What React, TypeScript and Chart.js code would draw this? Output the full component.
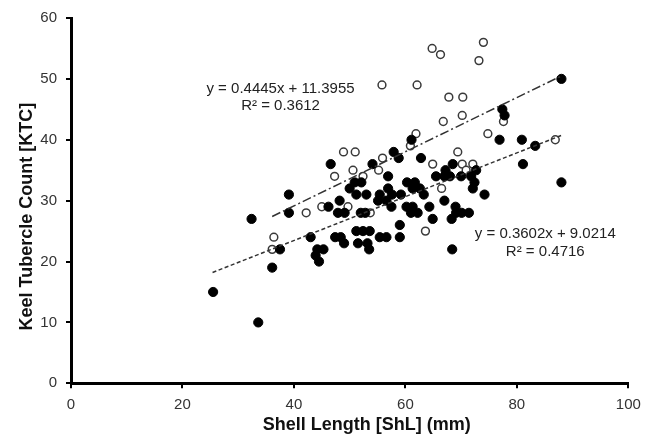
import React, { useEffect, useRef } from "react";
import { Chart, registerables } from "chart.js";
Chart.register(...registerables);

// Filled circles (series 1)
const filledX = [25.5, 33.6, 32.4, 39.1, 39.1, 37.5, 36.1, 43, 44.2, 45.3, 43.9, 44.5, 46.2, 46.6, 48.2, 47.9, 49.1, 47.4, 48.4, 49, 50.9, 52.1, 50, 51.2, 53, 54.1, 56.9, 55.4, 56.9, 57.6, 59.2, 55.1, 56.6, 57.5, 52, 52.8, 51.2, 52.4, 53.6, 51.5, 53.2, 53.5, 55.4, 56.6, 59, 59, 57.9, 58.8, 61.1, 62.8, 68.5, 67.2, 72.7, 65.5, 67, 68, 70, 71.8, 72.4, 72.1, 74.2, 60.3, 61.7, 62.6, 63.3, 61.3, 60.2, 61.3, 61, 62.2, 64.3, 64.9, 68.3, 69.1, 70.1, 71.4, 67, 69, 68.4, 77.4, 77.8, 88, 76.9, 80.9, 83.3, 81.1, 88];
const filledY = [15, 10, 27, 28, 31, 22, 19, 24, 22, 22, 21, 20, 29, 36, 30, 28, 28, 24, 24, 23, 33, 33, 32, 31, 31, 36, 34, 31, 32, 31, 31, 30, 30, 29, 28, 28, 25, 25, 25, 23, 23, 22, 24, 24, 24, 26, 38, 37, 40, 37, 36, 35, 35, 34, 34, 34, 34, 34, 33, 32, 31, 33, 33, 32, 31, 32, 29, 29, 28, 28, 29, 27, 27, 28, 28, 28, 30, 29, 22, 45, 44, 50, 40, 40, 39, 36, 33];

// Open circles (series 2)
const openX = [36.4, 36.1, 42.2, 45, 47.3, 48.9, 51, 50.6, 52.4, 55.2, 55.9, 53.7, 49.7, 60.9, 61.9, 64.9, 69.4, 70.2, 72.1, 70.9, 66.5, 63.6, 74.8, 77.6, 86.9, 55.8, 62.1, 64.8, 66.3, 74, 73.2, 67.8, 70.3, 70.2, 66.8];
const openY = [24, 22, 28, 29, 34, 38, 38, 35, 34, 35, 37, 28, 29, 39, 41, 36, 38, 36, 36, 35, 32, 25, 41, 43, 40, 49, 49, 55, 54, 56, 53, 47, 47, 44, 43];

// Trend line end points
const trendOpenX = [36.1, 87.8];
const trendOpenY = [27.4, 50.4];
const trendFilledX = [25.4, 88.2];
const trendFilledY = [18.2, 40.8];

const eqOpen = ["y = 0.4445x + 11.3955", "R² = 0.3612"];
const eqFilled = ["y = 0.3602x + 9.0214", "R² = 0.4716"];

const xTitle = "Shell Length [ShL] (mm)";
const yTitle = "Keel Tubercle Count [KTC]";

const toPts = (xs: number[], ys: number[]) => xs.map((x, i) => ({ x, y: ys[i] }));

const textPlugin = {
  id: "texts",
  afterDraw(chart: any) {
    const { ctx, chartArea, scales } = chart;
    const xs = scales.x;
    const ys = scales.y;
    ctx.save();
    ctx.fillStyle = "#222";
    ctx.font = '15px "Liberation Sans", Arial, sans-serif';
    ctx.textAlign = "center";
    ctx.textBaseline = "middle";
    ctx.fillText(eqOpen[0], xs.getPixelForValue(37.6), ys.getPixelForValue(48.4));
    ctx.fillText(eqOpen[1], xs.getPixelForValue(37.6), ys.getPixelForValue(45.5));
    ctx.fillText(eqFilled[0], xs.getPixelForValue(85.1), ys.getPixelForValue(24.5));
    ctx.fillText(eqFilled[1], xs.getPixelForValue(85.1), ys.getPixelForValue(21.6));
    // axis titles
    ctx.fillStyle = "#111";
    ctx.font = 'bold 18px "Liberation Sans", Arial, sans-serif';
    ctx.fillText(xTitle, (chartArea.left + chartArea.right) / 2 + 17, chartArea.bottom + 42);
    ctx.translate(27.5, (chartArea.top + chartArea.bottom) / 2 + 16);
    ctx.rotate(-Math.PI / 2);
    ctx.fillText(yTitle, 0, 0);
    ctx.restore();
  },
};

export default function App() {
  const ref = useRef<HTMLCanvasElement>(null);
  useEffect(() => {
    if (!ref.current) return;
    const chart = new Chart(ref.current, {
      type: "scatter",
      data: {
        datasets: [
          {
            type: "line",
            data: toPts(trendOpenX, trendOpenY),
            borderColor: "#333",
            borderWidth: 1.5,
            borderDash: [9, 3, 2, 3],
            pointRadius: 0,
            fill: false,
          } as any,
          {
            type: "line",
            data: toPts(trendFilledX, trendFilledY),
            borderColor: "#333",
            borderWidth: 1.5,
            borderDash: [4, 2.5],
            pointRadius: 0,
            fill: false,
          } as any,
          {
            data: toPts(filledX, filledY),
            backgroundColor: "#000",
            borderColor: "#000",
            borderWidth: 1,
            pointRadius: 4.6,
          },
          {
            data: toPts(openX, openY),
            backgroundColor: "#fff",
            borderColor: "#3a3a3a",
            borderWidth: 1.5,
            pointRadius: 3.9,
          },
        ],
      },
      options: {
        responsive: false,
        animation: false,
        devicePixelRatio: 1,
        layout: { padding: { top: 16.7, right: 23.7, left: 0, bottom: 0 } },
        plugins: { legend: { display: false }, tooltip: { enabled: false } },
        scales: {
          x: {
            type: "linear",
            min: 0,
            max: 100,
            afterFit: (s: any) => { s.height = 53.7; },
            ticks: { stepSize: 20, color: "#333", padding: 8, font: { size: 15, family: '"Liberation Sans", Arial' } },
            grid: { display: true, drawOnChartArea: false, drawTicks: true, tickLength: 5, color: "#000", lineWidth: 2 },
            border: { display: true, color: "#000", width: 3 },
          },
          y: {
            type: "linear",
            min: 0,
            max: 60,
            afterFit: (s: any) => { s.width = 71; },
            ticks: { stepSize: 10, color: "#333", padding: 9, font: { size: 15, family: '"Liberation Sans", Arial' } },
            grid: { display: true, drawOnChartArea: false, drawTicks: true, tickLength: 5, color: "#000", lineWidth: 2 },
            border: { display: true, color: "#000", width: 3 },
          },
        },
      },
      plugins: [textPlugin],
    });
    return () => chart.destroy();
  }, []);
  return (
    <div style={{ position: "fixed", left: 0, top: 0, width: 652, height: 437, background: "#fff" }}>
      <canvas ref={ref} width={652} height={437} style={{ width: 652, height: 437 }} />
    </div>
  );
}
